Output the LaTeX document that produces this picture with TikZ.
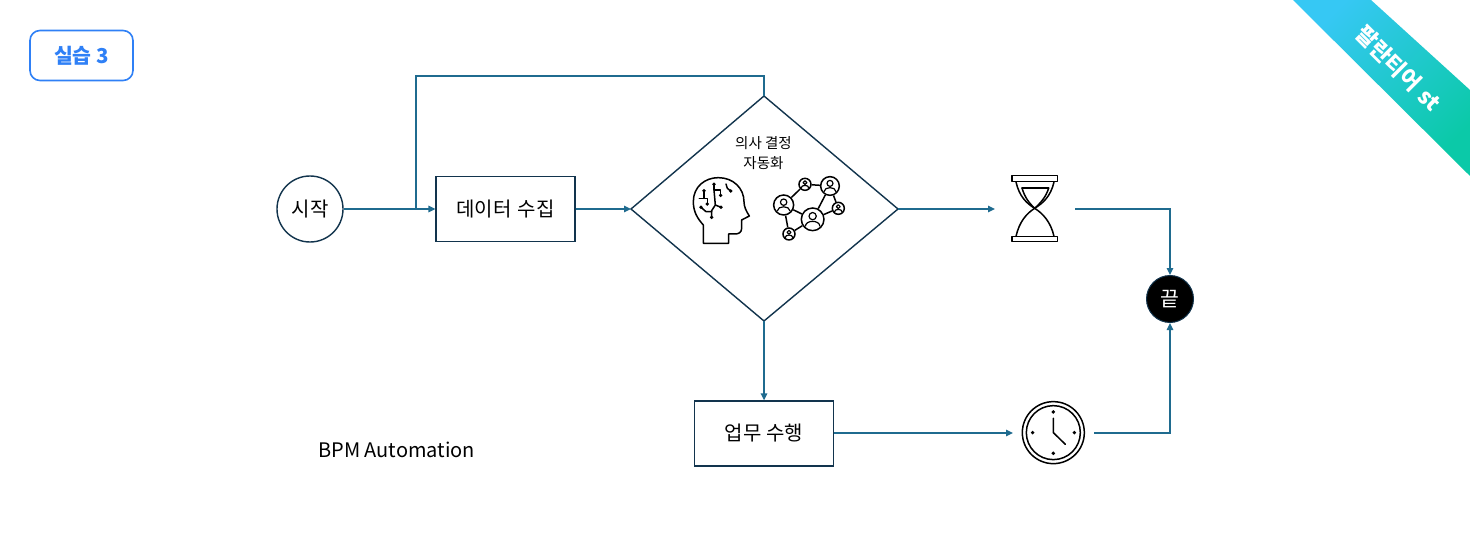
\documentclass[tikz,border=0pt]{standalone}
\usepackage{fontspec}
\setmainfont{Noto Sans CJK KR}
\usetikzlibrary{arrows.meta,shapes.geometric}
\definecolor{conn}{HTML}{1F6B8F}
\definecolor{outl}{HTML}{12344D}
\definecolor{tagblue}{HTML}{2F80F6}
\definecolor{ribA}{HTML}{36C8F4}
\definecolor{ribB}{HTML}{0BC9A8}
\tikzset{
  flow/.style={draw=conn,line width=1.4pt,-{Triangle[length=7pt,width=6.5pt]}},
  plain/.style={draw=conn,line width=1.4pt},
  procbox/.style={draw=outl,line width=1.3pt,rectangle,minimum width=139pt,minimum height=65pt,inner sep=0pt,font=\fontsize{20}{24}\selectfont},
  ico/.style={draw=black,line width=1.5pt,line join=round,line cap=round},
  dotty/.style={circle,fill=black,inner sep=0pt,minimum size=3.8pt},
  peer/.style={circle,draw=black,line width=1.5pt,inner sep=0pt,fill=white}
}
\newcommand{\pers}[3]{% name, position, diameter (zoom units are thirds of a point)
  \node[peer,minimum size=#3*1pt/3] (#1) at #2 {};
  \begin{scope}[shift={#2}]
    \draw[ico,line width=1.2pt] (0,-#3*0.14) circle [radius=#3*0.16];
    \draw[ico,line width=1.2pt] (-#3*0.32,#3*0.30) .. controls (-#3*0.30,#3*0.02) and (#3*0.30,#3*0.02) .. (#3*0.32,#3*0.30);
  \end{scope}}
\begin{document}
\begin{tikzpicture}[x=1pt,y=-1pt]
\useasboundingbox (0,0) rectangle (1470,548);
\fill[white] (0,0) rectangle (1470,548);
% ribbon
\shade[left color=ribA,right color=ribB,shading angle=45] (1293,0) -- (1371,0) -- (1470,90) -- (1470,176) -- cycle;
\node[text=white,rotate=-45,font=\bfseries\fontsize{22}{26}\selectfont,inner sep=0pt] (ribbonlabel) at (1398.5,68.5) {팔란티어\hspace{0.12em} st};
% tag
\node[draw=tagblue,line width=1.6pt,rounded corners=10pt,minimum width=103pt,minimum height=50pt,inner sep=0pt,text=tagblue,font=\bfseries\fontsize{20.5}{24}\selectfont] (tag) at (81.5,55.5) {실습 3};
% main nodes
\node[circle,draw=outl,line width=1.4pt,minimum size=66pt,inner sep=0pt,font=\fontsize{20}{24}\selectfont] (start) at (310,209) {시작};
\node[procbox] (collect) at (505.5,208.7) {데이터\hspace{0.08em} 수집};
\node[procbox] (work) at (764,433.5) {업무 수행};
\draw[outl,line width=1.4pt,line join=miter,fill=white] (631,209) coordinate (dL) -- (764,96) coordinate (dT) -- (898,209) coordinate (dR) -- (764,321) coordinate (dB) -- cycle;
\node[align=center,inner sep=0pt,font=\fontsize{14.5}{20}\selectfont] (decide) at (763.5,153) {의사 결정\\자동화};
\node[circle,fill=black,draw=outl,line width=1pt,minimum size=47pt,inner sep=0pt,text=white,font=\fontsize{20.5}{24}\selectfont] (finish) at (1170,299) {끝};
\node[inner sep=0pt,anchor=west,font=\fontsize{20}{24}\selectfont] (bpm) at (318,450) {BPM Automation};
% free connector ends
\coordinate (loopA) at (764,76);
\coordinate (loopB) at (416,76);
\coordinate (loopC) at (416,209);
\coordinate (hgIn) at (995,209);
\coordinate (hgOut) at (1075,209);
\coordinate (hgCorner) at (1170,209);
\coordinate (ckIn) at (1013,433);
\coordinate (ckOut) at (1094,433);
\coordinate (ckCorner) at (1170,433);
% connectors
\draw[flow] (start.east) -- (start.east -| collect.west);
\draw[plain] (dT) -- (loopA) -- (loopB) -- (loopC);
\draw[flow] (dL -| collect.east) -- (dL);
\draw[flow] (dR) -- (hgIn);
\draw[flow] (dB) -- (work.north);
\draw[flow] (work.east |- ckIn) -- (ckIn);
\draw[flow] (hgOut) -- (hgCorner) -- (finish.north);
\draw[flow] (ckOut) -- (ckCorner) -- (finish.south);
% hourglass
\begin{scope}[shift={(990,160)},x=0.3333pt,y=-0.3333pt]
  \draw[ico,line width=1.6pt] (66,47) rectangle (203,64);
  \draw[ico,line width=1.6pt] (66,229) rectangle (203,245);
  \draw[ico] (78,66) .. controls (88,110) and (110,130) .. (134,145) .. controls (158,130) and (182,110) .. (192,66);
  \draw[ico] (78,229) .. controls (88,185) and (110,160) .. (134,145) .. controls (158,160) and (182,185) .. (192,229);
  \draw[ico] (96,84) -- (176,84);
  \draw[ico] (96,84) .. controls (104,112) and (118,130) .. (134,145) .. controls (150,130) and (168,112) .. (176,84);
\end{scope}
% clock
\begin{scope}[shift={(990,160)},x=0.3333pt,y=-0.3333pt]
  \draw[ico] (190,818) circle [radius=93];
  \draw[ico] (190,818) circle [radius=81];
  \foreach \a/\b in {190/756,190/880,128/818,253/818}
    \node[dotty] at (\a,\b) {};
  \draw[ico] (190,775) -- (190,818) -- (226,853);
\end{scope}
% head icon
\begin{scope}[shift={(620,90)},x=0.3333pt,y=-0.3333pt]
  \draw[ico] (250,460) -- (250,405) .. controls (232,385) and (220,365) .. (220,335)
    .. controls (220,290) and (255,263) .. (295,263)
    .. controls (340,263) and (372,295) .. (372,335)
    .. controls (372,350) and (378,362) .. (388,378)
    -- (365,390) -- (365,415) .. controls (365,428) and (355,432) .. (345,432)
    -- (326,432) -- (326,460) -- cycle;
  \draw[ico] (252,302) -- (252,325);
  \draw[ico] (238,325) -- (262,325) -- (262,342);
  \draw[ico] (282,283) -- (282,300) -- (302,300) -- (302,316);
  \draw[ico] (282,300) -- (286,345) -- (275,362) -- (275,382);
  \draw[ico] (243,352) -- (258,365) -- (275,365);
  \draw[ico] (286,345) -- (303,352);
  \draw[ico] (318,282) -- (322,295) -- (332,303);
  \foreach \a/\b in {252/302,262/342,282/283,302/316,275/382,243/352,303/352,332/303}
    \node[dotty] at (\a,\b) {};
\end{scope}
% network icon
\begin{scope}[shift={(620,90)},x=0.3333pt,y=-0.3333pt]
  \pers{pa}{(491,345)}{60}
  \pers{pb}{(555,283)}{36}
  \pers{pc}{(630,288)}{56}
  \pers{pd}{(655,355)}{36}
  \pers{pe}{(578,388)}{68}
  \pers{pf}{(507,432)}{36}
  \draw[ico,line cap=butt] (pa) -- (pb);
  \draw[ico,line cap=butt] (pb) -- (pc);
  \draw[ico,line cap=butt] (pc) -- (pe);
  \draw[ico,line cap=butt] (pc) -- (pd);
  \draw[ico,line cap=butt] (pd) -- (pe);
  \draw[ico,line cap=butt] (pa) -- (pe);
  \draw[ico,line cap=butt] (pa) -- (pf);
  \draw[ico,line cap=butt] (pf) -- (pe);
\end{scope}
\end{tikzpicture}
\end{document}
